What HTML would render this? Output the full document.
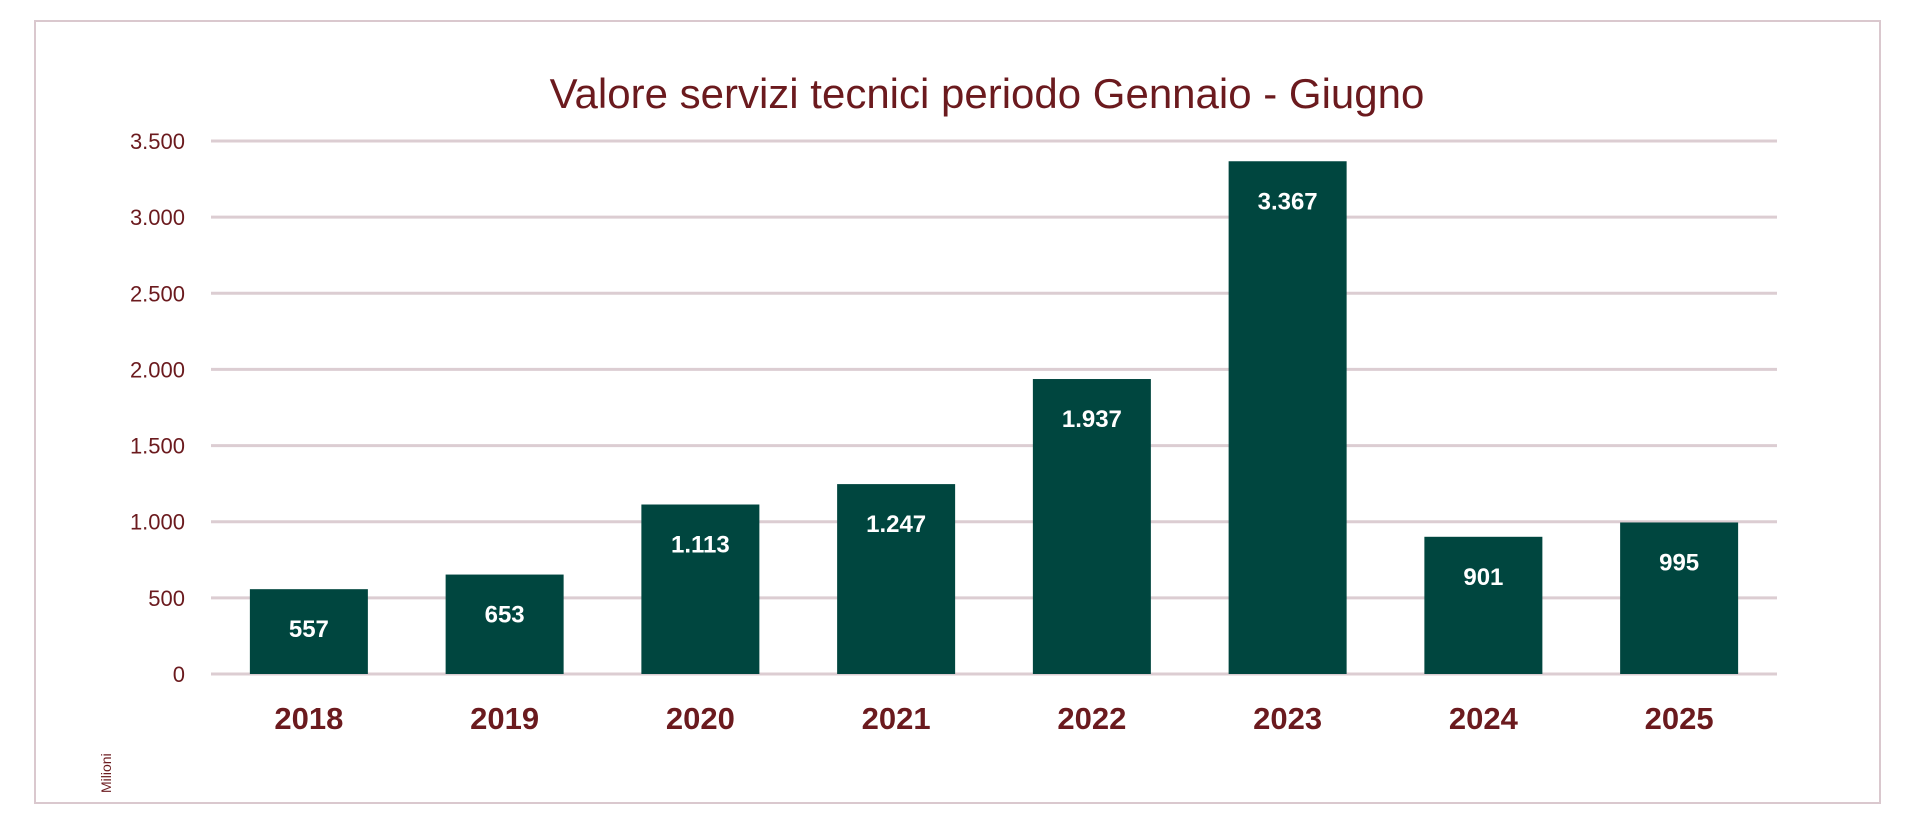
<!DOCTYPE html>
<html><head><meta charset="utf-8"><style>
html,body{margin:0;padding:0;background:#fff;width:1920px;height:831px;overflow:hidden}
svg{display:block}
text{font-family:"Liberation Sans",Arial,sans-serif}
</style></head><body>
<svg id="chart" width="1920" height="831" viewBox="0 0 1920 831" xmlns="http://www.w3.org/2000/svg">
<rect x="35" y="21" width="1845" height="782" fill="#fff" stroke="#dac8ce" stroke-width="2"/>
<text x="987" y="108" text-anchor="middle" font-size="42" fill="#6b1a1e">Valore servizi tecnici periodo Gennaio - Giugno</text>
<text transform="translate(111,793) rotate(-90)" font-size="14" fill="#6b1a1e">Milioni</text>
<g id="grid"></g><g id="bars"></g><g id="labels"></g>
</svg>
<script>
const categories = ["2018","2019","2020","2021","2022","2023","2024","2025"];
const values = [557,653,1113,1247,1937,3367,901,995];
const valueLabels = ["557","653","1.113","1.247","1.937","3.367","901","995"];
const tickValues = [0,500,1000,1500,2000,2500,3000,3500];
const tickLabels = ["0","500","1.000","1.500","2.000","2.500","3.000","3.500"];
const NS="http://www.w3.org/2000/svg";
const x0=211,x1=1777,yZero=674,yTop=141,vMax=3500;
const band=(x1-x0)/categories.length, barW=118;
function y(v){return yZero-(v/vMax)*(yZero-yTop);}
function xc(i){return x0+band*(i+0.5);}
const grid=document.getElementById('grid'),bars=document.getElementById('bars'),labels=document.getElementById('labels');
tickValues.forEach((t,i)=>{
  const l=document.createElementNS(NS,'line');
  
  
  l.setAttribute('x1',x0);l.setAttribute('x2',x1);l.setAttribute('y1',y(t));l.setAttribute('y2',y(t));
  l.setAttribute('stroke','#dccdd2');l.setAttribute('stroke-width','3');
  grid.appendChild(l);
  const tx=document.createElementNS(NS,'text');
  
  
  tx.setAttribute('x',185);tx.setAttribute('y',y(t)+8);tx.setAttribute('text-anchor','end');
  tx.setAttribute('font-size','22');tx.setAttribute('fill','#6b1a1e');
  tx.textContent=tickLabels[i];grid.appendChild(tx);
});
values.forEach((v,i)=>{
  const r=document.createElementNS(NS,'rect');
  
  
  r.setAttribute('x',xc(i)-barW/2);r.setAttribute('width',barW);
  r.setAttribute('y',y(v));r.setAttribute('height',yZero-y(v));r.setAttribute('fill','#00463f');
  bars.appendChild(r);
  const vl=document.createElementNS(NS,'text');
  
  
  vl.setAttribute('x',xc(i));vl.setAttribute('y',y(v)+48);vl.setAttribute('text-anchor','middle');
  vl.setAttribute('font-size','24');vl.setAttribute('font-weight','bold');vl.setAttribute('fill','#fff');
  vl.textContent=valueLabels[i];labels.appendChild(vl);
  const cl=document.createElementNS(NS,'text');
  
  
  cl.setAttribute('x',xc(i));cl.setAttribute('y',729);cl.setAttribute('text-anchor','middle');
  cl.setAttribute('font-size','31');cl.setAttribute('font-weight','bold');cl.setAttribute('fill','#6b1a1e');
  cl.textContent=categories[i];labels.appendChild(cl);
});
</script>
</body></html>
